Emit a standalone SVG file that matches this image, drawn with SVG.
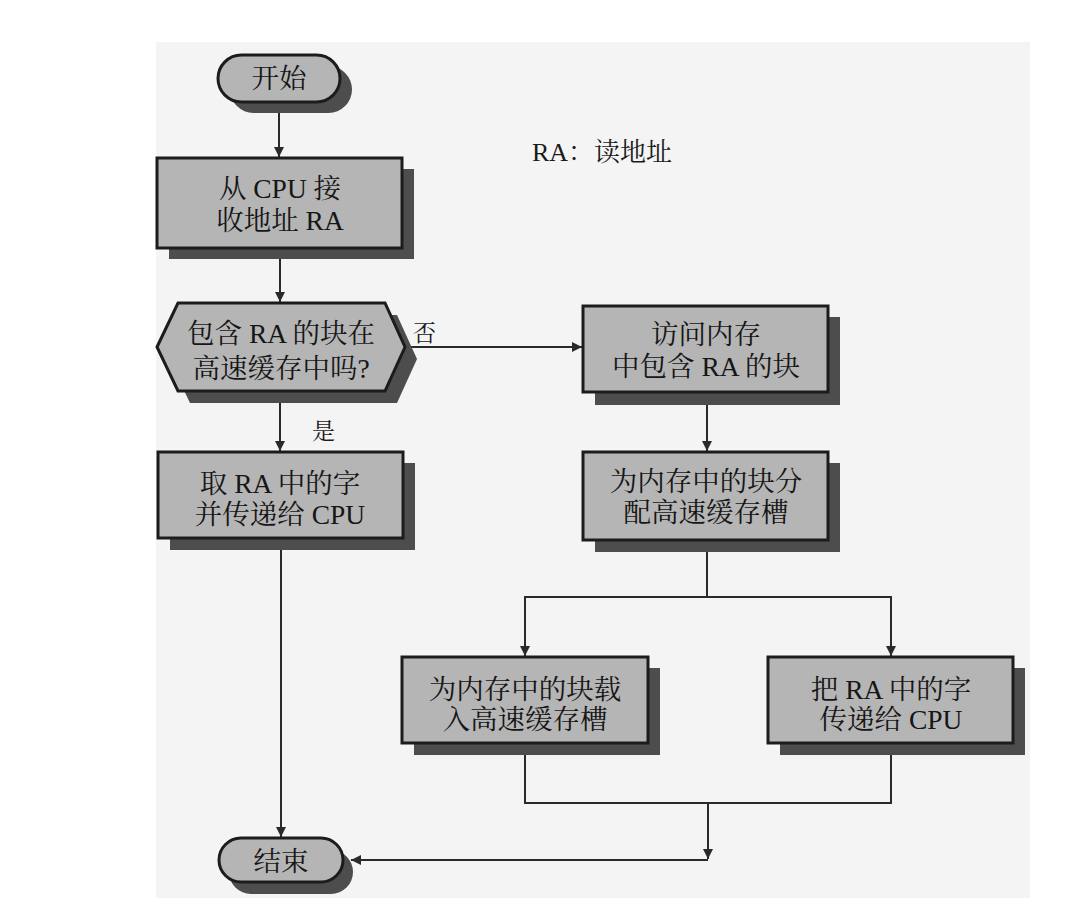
<svg xmlns="http://www.w3.org/2000/svg" width="1081" height="912" viewBox="0 0 1081 912">
<defs>
<style>
.shadow{fill:#4d4d4d;stroke:none}
.node{fill:#b5b5b5;stroke:#1c1c1c;stroke-width:3}
.t{font-family:'Liberation Serif','Noto Serif CJK SC','Noto Sans CJK SC',serif;font-size:27.5px;fill:#161616;text-anchor:middle;dominant-baseline:central}
.lbl{font-family:'Liberation Serif','Noto Serif CJK SC','Noto Sans CJK SC',serif;font-size:23px;fill:#1a1a1a;dominant-baseline:central}
.c{fill:none;stroke:#2a2a2a;stroke-width:2}
</style>
<marker id="ah" viewBox="0 0 10 10" refX="10" refY="5" markerWidth="10" markerHeight="10" markerUnits="userSpaceOnUse" orient="auto">
<path d="M0,0 L10,5 L0,10 Z" fill="#2a2a2a"/>
</marker>
</defs>
<rect x="156" y="42" width="874" height="856" fill="#f4f4f4"/>
<text class="lbl" x="532" y="152" style="font-size:26px">RA：读地址</text>
<g id="connectors">
<path class="c" d="M279,102 V157" marker-end="url(#ah)"/>
<path class="c" d="M280,248 V302" marker-end="url(#ah)"/>
<path class="c" d="M280,391 V451" marker-end="url(#ah)"/>
<path class="c" d="M405,347 H582" marker-end="url(#ah)"/>
<path class="c" d="M707,392 V451" marker-end="url(#ah)"/>
<path class="c" d="M707,540 V597"/>
<path class="c" d="M707,597 H525 V656" marker-end="url(#ah)"/>
<path class="c" d="M707,597 H891 V656" marker-end="url(#ah)"/>
<path class="c" d="M525,743 V803 H891 V743"/>
<path class="c" d="M708,803 V859" marker-end="url(#ah)"/>
<path class="c" d="M708,860 H351" marker-end="url(#ah)"/>
<path class="c" d="M281,538 V837" marker-end="url(#ah)"/>
<text class="lbl" x="413" y="333">否</text>
<text class="lbl" x="312" y="431">是</text>
</g>
<g id="start">
<rect class="shadow" x="230" y="66" width="122" height="47" rx="23.5"/>
<rect class="node" x="218" y="55" width="122" height="47" rx="23.5"/>
<text class="t" x="279" y="78">开始</text>
</g>
<g id="receive">
<rect class="shadow" x="169" y="169" width="245" height="90"/>
<rect class="node" x="157" y="158" width="245" height="90"/>
<text class="t" x="280" y="188">从 CPU 接</text>
<text class="t" x="280" y="220">收地址 RA</text>
</g>
<g id="decision">
<polygon class="shadow" points="169,359 190,315 397,315 417,359 397,403 190,403"/>
<polygon class="node" points="157,347 178,303 385,303 405,347 385,391 178,391"/>
<text class="t" x="281" y="333">包含 RA 的块在</text>
<text class="t" x="281" y="368">高速缓存中吗?</text>
</g>
<g id="fetch">
<rect class="shadow" x="170" y="463" width="245" height="87"/>
<rect class="node" x="158" y="452" width="245" height="86"/>
<text class="t" x="280" y="483">取 RA 中的字</text>
<text class="t" x="280" y="514">并传递给 CPU</text>
</g>
<g id="access">
<rect class="shadow" x="595" y="317" width="245" height="88"/>
<rect class="node" x="583" y="306" width="245" height="86"/>
<text class="t" x="706" y="334">访问内存</text>
<text class="t" x="706" y="366">中包含 RA 的块</text>
</g>
<g id="allocate">
<rect class="shadow" x="595" y="463" width="245" height="89"/>
<rect class="node" x="583" y="452" width="245" height="88"/>
<text class="t" x="706" y="481">为内存中的块分</text>
<text class="t" x="706" y="512">配高速缓存槽</text>
</g>
<g id="load">
<rect class="shadow" x="414" y="668" width="246" height="87"/>
<rect class="node" x="402" y="657" width="246" height="86"/>
<text class="t" x="525" y="689">为内存中的块载</text>
<text class="t" x="525" y="719">入高速缓存槽</text>
</g>
<g id="deliver">
<rect class="shadow" x="780" y="668" width="245" height="87"/>
<rect class="node" x="768" y="657" width="245" height="86"/>
<text class="t" x="891" y="689">把 RA 中的字</text>
<text class="t" x="891" y="719">传递给 CPU</text>
</g>
<g id="end">
<rect class="shadow" x="229" y="850" width="124" height="44" rx="22"/>
<rect class="node" x="219" y="838" width="124" height="44" rx="22"/>
<text class="t" x="281" y="861">结束</text>
</g>
</svg>
